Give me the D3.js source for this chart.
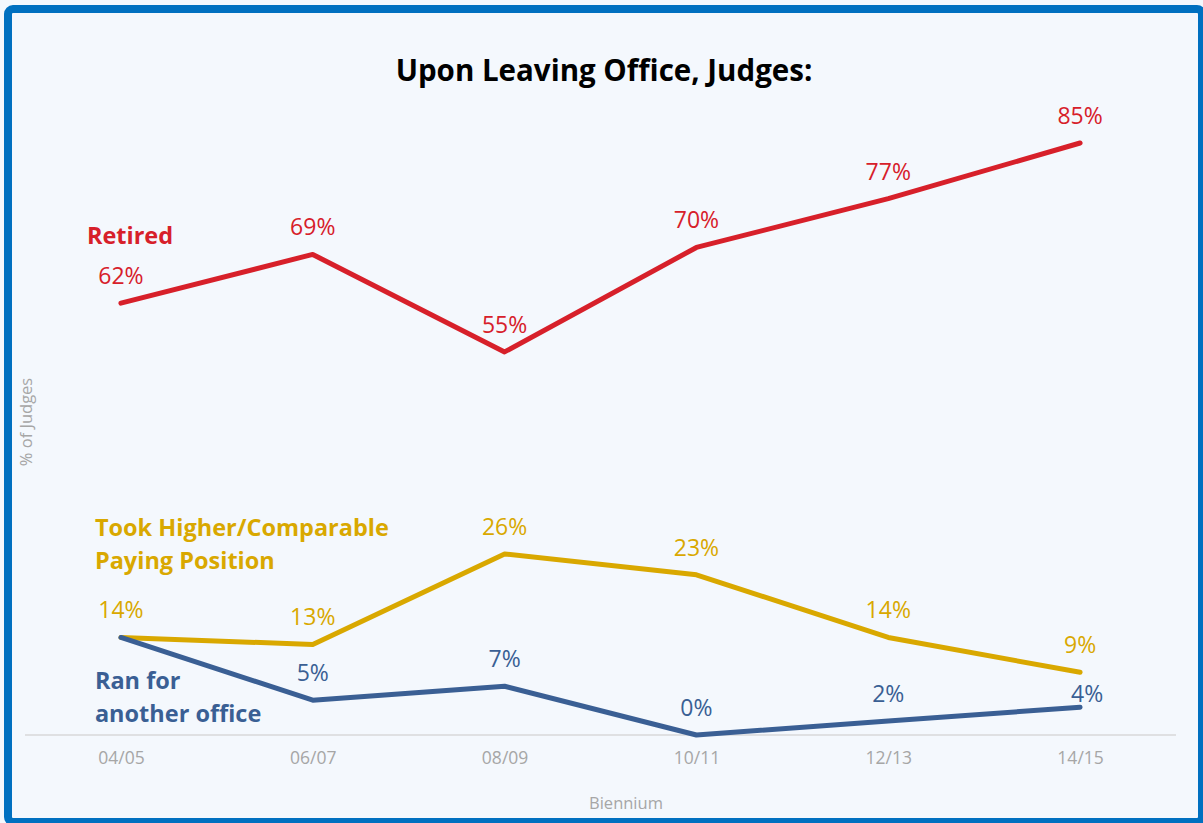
<!DOCTYPE html>
<html lang="en">
<head>
    <meta charset="UTF-8">
    <title>Upon Leaving Office, Judges</title>
    <script src="https://d3js.org/d3.v7.min.js"></script>
    <style>
        body {
            margin: 0;
            background: #f4f8fd;
        }
        svg text {
            font-family: "Open Sans", sans-serif;
        }
        .tick-label {
            font-size: 17.5px;
            fill: #a6a6a6;
        }
        .axis-title {
            font-size: 16.5px;
            fill: #a6a6a6;
        }
        .value {
            font-size: 23px;
        }
        .series-name {
            font-size: 23.5px;
            font-weight: bold;
        }
    </style>
</head>
<body>
    <div id="chart"></div>
    <script>
        const width = 1203;
        const height = 823;

        // data
        const biennia = ["04/05", "06/07", "08/09", "10/11", "12/13", "14/15"];
        const retired = [62, 69, 55, 70, 77, 85];
        const higherPaying = [14, 13, 26, 23, 14, 9];
        const ranForOffice = [14, 5, 7, 0, 2, 4];

        const series = [
            { name: ["Retired"], values: retired, color: "#d7202a", labelFrom: 0, nameDx: -34, nameDy: -59 },
            { name: ["Took Higher/Comparable", "Paying Position"], values: higherPaying, color: "#d9a800", labelFrom: 0, nameDx: -26, nameDy: -101 },
            { name: ["Ran for", "another office"], values: ranForOffice, color: "#3a5f94", labelFrom: 1, nameDx: -26, nameDy: 52 }
        ];

        const svg = d3.select("#chart")
            .append("svg")
            .attr("width", width)
            .attr("height", height);

        // frame
        svg.append("rect")
            .attr("x", 8)
            .attr("y", 9)
            .attr("width", 1194)
            .attr("height", 813)
            .attr("rx", 5)
            .attr("fill", "#f4f8fd")
            .attr("stroke", "#0070c0")
            .attr("stroke-width", 8);

        const x = d3.scalePoint()
            .domain(biennia)
            .range([25, 1176])
            .padding(0.5);

        const y = d3.scaleLinear()
            .domain([0, 100])
            .range([735, 38.5]);

        // title
        svg.append("text")
            .attr("x", 604)
            .attr("y", 81)
            .attr("text-anchor", "middle")
            .style("font-size", "29.5px")
            .style("font-weight", "bold")
            .style("fill", "#000")
            .text("Upon Leaving Office, Judges:");

        // x axis
        const xAxis = svg.append("g")
            .attr("transform", `translate(0, ${y(0)})`)
            .call(d3.axisBottom(x).tickSize(0).tickPadding(17));
        xAxis.select(".domain")
            .attr("d", `M25,0H1176`)
            .attr("stroke", "#d9d9d9")
            .attr("stroke-width", 1.5);
        xAxis.selectAll("text")
            .attr("class", "tick-label")
            .style("font-family", "'Open Sans', sans-serif")
            .attr("dy", "0.71em");

        // axis titles
        svg.append("text")
            .attr("x", 626)
            .attr("y", 809)
            .attr("text-anchor", "middle")
            .attr("class", "axis-title")
            .text("Biennium");

        svg.append("text")
            .attr("transform", "translate(32, 422) rotate(-90)")
            .attr("text-anchor", "middle")
            .attr("class", "axis-title")
            .text("% of Judges");

        const line = d3.line()
            .x((d, i) => x(biennia[i]))
            .y(d => y(d));

        series.forEach(s => {
            svg.append("path")
                .datum(s.values)
                .attr("d", line)
                .attr("fill", "none")
                .attr("stroke", s.color)
                .attr("stroke-width", 5)
                .attr("stroke-linecap", "round")
                .attr("stroke-linejoin", "round");

            // value labels
            svg.selectAll(null)
                .data(s.values.map((v, i) => ({ v, i })).filter(d => d.i >= s.labelFrom))
                .enter()
                .append("text")
                .attr("class", "value")
                .attr("x", d => x(biennia[d.i]) + (s === series[2] && d.i === 5 ? 7 : 0))
                .attr("y", d => y(d.v) - (s === series[2] && d.i === 5 ? 5 : 19))
                .attr("text-anchor", "middle")
                .style("fill", s.color)
                .text(d => d.v + "%");

            // series name
            const x0 = x(biennia[0]) + s.nameDx;
            const y0 = y(s.values[0]) + s.nameDy;
            const t = svg.append("text")
                .attr("class", "series-name")
                .style("fill", s.color);
            s.name.forEach((n, k) => {
                t.append("tspan")
                    .attr("x", x0)
                    .attr("y", y0 + k * 33)
                    .text(n);
            });
        });
    </script>
</body>
</html>
